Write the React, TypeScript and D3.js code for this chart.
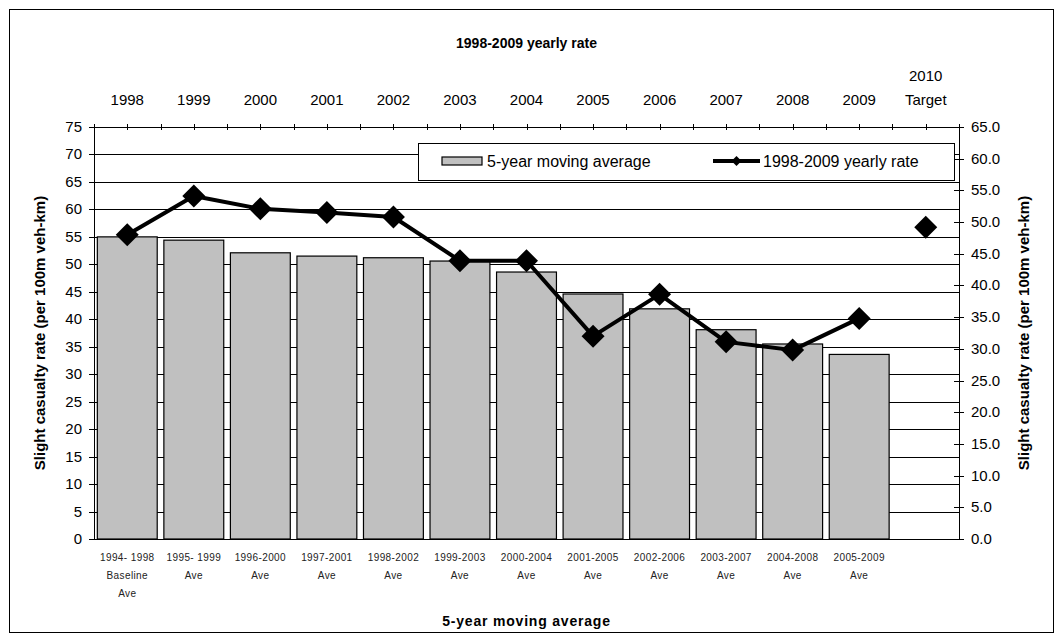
import React from "react";
import * as d3 from "d3";

const topYears = ["1998","1999","2000","2001","2002","2003","2004","2005","2006","2007","2008","2009","2010"];
const topSecondLine = ["","","","","","","","","","","","","Target"];
const bottomLine1 = ["1994- 1998","1995- 1999","1996-2000","1997-2001","1998-2002","1999-2003","2000-2004","2001-2005","2002-2006","2003-2007","2004-2008","2005-2009",""];
const bottomLine2 = ["Baseline","Ave","Ave","Ave","Ave","Ave","Ave","Ave","Ave","Ave","Ave","Ave",""];
const bottomLine3 = ["Ave","","","","","","","","","","","",""];
const movingAvg = [55.0, 54.4, 52.1, 51.5, 51.2, 50.6, 48.6, 44.6, 41.9, 38.1, 35.5, 33.6];
const yearlyRate = [48.0, 54.1, 52.1, 51.5, 50.8, 43.9, 43.9, 32.0, 38.6, 31.1, 29.8, 34.8];
const target2010 = 49.2;
const leftTicks = d3.range(0, 76, 5);
const rightTicks = d3.range(0, 66, 5);

export default function App() {
  const L = 94, R = 959, T = 127, B = 539;
  const x = d3.scaleBand<string>().domain(topYears).range([L, R]).paddingInner(0.1).paddingOuter(0.05);
  const yL = d3.scaleLinear().domain([0, 75]).range([B, T]);
  const yR = d3.scaleLinear().domain([0, 65]).range([B, T]);
  const cx = (i: number) => (x(topYears[i]) as number) + x.bandwidth() / 2;
  const font = "'Liberation Sans', Arial, sans-serif";
  const linePts: [number, number][] = yearlyRate.map((v, i) => [cx(i), yR(v)]);
  const lineGen = d3.line();
  const diamond = (px: number, py: number, r: number) =>
    `M${px},${py - r}L${px + r},${py}L${px},${py + r}L${px - r},${py}Z`;
  const boundaries = d3.range(0, 14).map((k) => L + k * (R - L) / 13);

  return (
    <svg width={1063} height={642} style={{ position: "absolute", left: 0, top: 0, background: "#fff" }} fontFamily={font}>
      <rect x={9.5} y={9.5} width={1044} height={623} fill="#fff" stroke="#000" strokeWidth={1} />
      {leftTicks.filter((t) => t > 0).map((t) => (
        <line key={"g" + t} x1={L} x2={R} y1={Math.round(yL(t)) + 0.5} y2={Math.round(yL(t)) + 0.5} stroke="#000" strokeWidth={1} />
      ))}
      {movingAvg.map((v, i) => (
        <rect key={"b" + i} x={x(topYears[i])} y={yL(v)} width={x.bandwidth()} height={B - yL(v)} fill="#c0c0c0" stroke="#000" strokeWidth={1.2} />
      ))}
      <line x1={L + 0.5} x2={L + 0.5} y1={T} y2={B} stroke="#000" />
      <line x1={R + 0.5} x2={R + 0.5} y1={T} y2={B} stroke="#000" />
      <line x1={L} x2={R} y1={B + 0.5} y2={B + 0.5} stroke="#000" />
      {leftTicks.map((t) => (
        <g key={"lt" + t}>
          <line x1={L - 5} x2={L} y1={Math.round(yL(t)) + 0.5} y2={Math.round(yL(t)) + 0.5} stroke="#000" />
          <text x={82} y={yL(t) + 5} textAnchor="end" fontSize={15} fill="#000">{t}</text>
        </g>
      ))}
      {rightTicks.map((t) => (
        <g key={"rt" + t}>
          <line x1={R - 5} x2={R + 5} y1={Math.round(yR(t)) + 0.5} y2={Math.round(yR(t)) + 0.5} stroke="#000" />
          <text x={971} y={yR(t) + 5} textAnchor="start" fontSize={15} fill="#000">{t.toFixed(1)}</text>
        </g>
      ))}
      {boundaries.map((bx, k) => (
        <line key={"tb" + k} x1={Math.round(bx) + 0.5} x2={Math.round(bx) + 0.5} y1={T - 3} y2={T + 3} stroke="#000" />
      ))}
      {topYears.map((y, i) => (
        <line key={"tc" + i} x1={Math.round(cx(i)) + 0.5} x2={Math.round(cx(i)) + 0.5} y1={T - 3} y2={T + 3} stroke="#000" />
      ))}
      <path d={lineGen(linePts) as string} fill="none" stroke="#000" strokeWidth={4} strokeLinejoin="round" />
      {linePts.map(([px, py], i) => (
        <path key={"d" + i} d={diamond(px, py, 11.5)} fill="#000" />
      ))}
      <path d={diamond(cx(12), yR(target2010), 11.5)} fill="#000" />
      {topYears.map((y, i) => (
        topSecondLine[i] ? (
          <g key={"tl" + i}>
            <text x={cx(i)} y={81} textAnchor="middle" fontSize={15}>{y}</text>
            <text x={cx(i)} y={105} textAnchor="middle" fontSize={15}>{topSecondLine[i]}</text>
          </g>
        ) : (
          <text key={"tl" + i} x={cx(i)} y={105} textAnchor="middle" fontSize={15}>{y}</text>
        )
      ))}
      <text x={(L + R) / 2} y={48} textAnchor="middle" fontSize={14} fontWeight="bold">1998-2009 yearly rate</text>
      {topYears.map((y, i) => (
        <g key={"bl" + i} fontSize={10} fill="#222" letterSpacing={0.4}>
          <text x={cx(i)} y={561} textAnchor="middle">{bottomLine1[i]}</text>
          <text x={cx(i)} y={579} textAnchor="middle">{bottomLine2[i]}</text>
          <text x={cx(i)} y={597} textAnchor="middle">{bottomLine3[i]}</text>
        </g>
      ))}
      <text x={(L + R) / 2} y={626} textAnchor="middle" fontSize={14} fontWeight="bold" letterSpacing={0.8}>5-year moving average</text>
      <text transform={`translate(45, ${(T + B) / 2}) rotate(-90)`} textAnchor="middle" fontSize={15} fontWeight="bold">Slight casualty rate (per 100m veh-km)</text>
      <text transform={`translate(1029, ${(T + B) / 2}) rotate(-90)`} textAnchor="middle" fontSize={15} fontWeight="bold">Slight casualty rate (per 100m veh-km)</text>
      <rect x={418.5} y={143.5} width={536} height={37} fill="#fff" stroke="#000" />
      <rect x={442} y={157} width={40} height={8} fill="#c0c0c0" stroke="#000" strokeWidth={1.2} />
      <text x={487} y={167} fontSize={16}>5-year moving average</text>
      <line x1={713} x2={760} y1={161} y2={161} stroke="#000" strokeWidth={4} />
      <path d={diamond(736.5, 161, 5)} fill="#000" />
      <text x={763} y={167} fontSize={16}>1998-2009 yearly rate</text>
    </svg>
  );
}
